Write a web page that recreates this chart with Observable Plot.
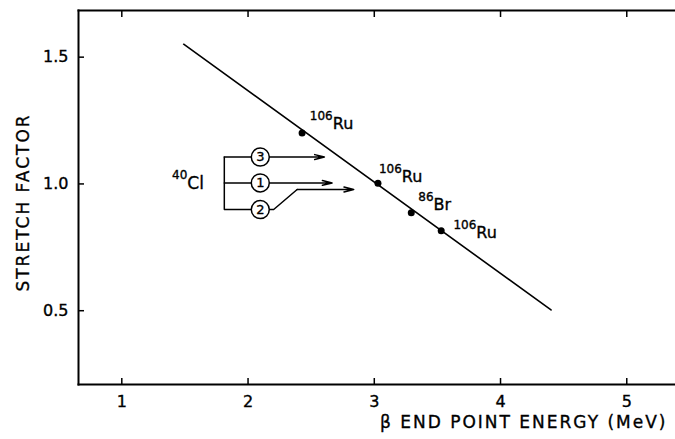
<!DOCTYPE html>
<html><head><meta charset="utf-8">
<script src="https://cdn.jsdelivr.net/npm/d3@7"></script>
<script src="https://cdn.jsdelivr.net/npm/@observablehq/plot@0.6"></script>
<style>
html,body{margin:0;padding:0;background:#fff;}
.axtitle text{letter-spacing:2px;}
svg text{stroke:black;stroke-width:0.35px;}
</style>
</head><body><div id="chart"></div>
<script>
// axes
const xTicks = [1, 2, 3, 4, 5];
const yTicks = [0.5, 1.0, 1.5];
const yTickLabels = ["0.5", "1.0", "1.5"];
const xDomain = [0.657, 5.386];
const yDomain = [0.209, 1.684];
const xLabel = "β END POINT ENERGY (MeV)";
const yLabel = "STRETCH FACTOR";

// straight line drawn through the points
const fitEnergy = [1.49, 4.40];
const fitStretch = [1.551, 0.503];

// measured points
const pointEnergy = [2.428, 3.029, 3.293, 3.530];
const pointStretch = [1.201, 1.003, 0.886, 0.815];

// point labels (junction between mass number and element)
const labelMass = ["106", "106", "86", "106"];
const labelElement = ["Ru", "Ru", "Br", "Ru"];
const labelEnergy = [2.671, 3.218, 3.470, 3.808];
const labelStretch = [1.235, 1.027, 0.918, 0.807];

// 40Cl annotation
const clMass = ["40"];
const clElement = ["Cl"];
const clEnergy = [1.519];
const clStretch = [1.002];
const runNumbers = ["3", "1", "2"];
const runStretch = [1.106, 1.004, 0.899];
const bracketEnergy = [1.812];
const circleEnergy = [2.097];
const arrowStartEnergy = [1.812, 1.812, 2.389];
const arrowStartStretch = [1.106, 1.004, 0.978];
const arrowTipEnergy = [2.605, 2.666, 2.837];
const arrowTipStretch = [1.106, 1.004, 0.978];
const bendEnergy = [1.812, 2.203, 2.389];
const bendStretch = [0.899, 0.899, 0.978];

const fit = fitEnergy.map((x, i) => ({x, y: fitStretch[i]}));
const points = pointEnergy.map((x, i) => ({x, y: pointStretch[i]}));
const labels = labelEnergy.map((x, i) => ({x, y: labelStretch[i], m: labelMass[i], e: labelElement[i]}));
const cl = clEnergy.map((x, i) => ({x, y: clStretch[i], m: clMass[i], e: clElement[i]}));
const runs = runNumbers.map((n, i) => ({n, x: circleEnergy[0], y: runStretch[i]}));
const arrows = arrowTipEnergy.map((x2, i) => ({x1: arrowStartEnergy[i], y1: arrowStartStretch[i], x2, y2: arrowTipStretch[i]}));
const bend = bendEnergy.map((x, i) => ({x, y: bendStretch[i]}));

const FONT = "DejaVu Sans";
const chart = Plot.plot({
  width: 675, height: 439,
  marginLeft: 78, marginRight: 0, marginTop: 10, marginBottom: 55,
  x: {domain: xDomain},
  y: {domain: yDomain},
  style: {fontFamily: FONT, color: "black", background: "white", overflow: "visible"},
  marks: [
    Plot.frame({anchor: "left", strokeWidth: 2}),
    Plot.frame({anchor: "top", strokeWidth: 2}),
    Plot.frame({anchor: "bottom", strokeWidth: 2}),
    Plot.axisX({anchor: "bottom", ticks: xTicks, tickSize: -6, fill: "none", strokeWidth: 1.5, label: null}),
    Plot.axisX({anchor: "top", ticks: xTicks, tickSize: -6, fill: "none", strokeWidth: 1.5, label: null}),
    Plot.axisX({anchor: "bottom", ticks: xTicks, tickSize: 0, tickPadding: 11, fontSize: 16, label: null, tickFormat: d3.format("d")}),
    Plot.axisY({anchor: "left", ticks: yTicks, tickSize: -6, fill: "none", strokeWidth: 1.5, label: null}),
    Plot.axisY({anchor: "left", ticks: yTicks, tickSize: 0, tickPadding: 10, fontSize: 16, label: null,
      tickFormat: d => yTickLabels[yTicks.indexOf(d)]}),
    Plot.text([xLabel], {frameAnchor: "bottom-right", textAnchor: "end", lineAnchor: "middle", dx: -8, dy: 38, fontSize: 17, className: "axtitle"}),
    Plot.text([yLabel], {frameAnchor: "left", textAnchor: "middle", lineAnchor: "middle", rotate: -90, dx: -55, dy: 5, fontSize: 17, className: "axtitle"}),
    Plot.line(fit, {x: "x", y: "y", strokeWidth: 1.6}),
    Plot.dot(points, {x: "x", y: "y", r: 3.5, fill: "black"}),
    Plot.text(labels, {x: "x", y: "y", text: "m", textAnchor: "end", dy: -8, fontSize: 12}),
    Plot.text(labels, {x: "x", y: "y", text: "e", textAnchor: "start", fontSize: 16}),
    Plot.text(cl, {x: "x", y: "y", text: "m", textAnchor: "end", dy: -8, fontSize: 12}),
    Plot.text(cl, {x: "x", y: "y", text: "e", textAnchor: "start", fontSize: 17}),
    Plot.ruleX(bracketEnergy, {y1: runStretch[0], y2: runStretch[2], strokeWidth: 1.5}),
    Plot.line(bend, {x: "x", y: "y", strokeWidth: 1.5}),
    Plot.arrow(arrows, {x1: "x1", y1: "y1", x2: "x2", y2: "y2", strokeWidth: 1.5, headLength: 10, headAngle: 28}),
    Plot.dot(runs, {x: "x", y: "y", r: 9, fill: "white", stroke: "black", strokeWidth: 1.5}),
    Plot.text(runs, {x: "x", y: "y", text: "n", fontSize: 13})
  ]
});
document.getElementById("chart").appendChild(chart);
</script>
</body></html>
